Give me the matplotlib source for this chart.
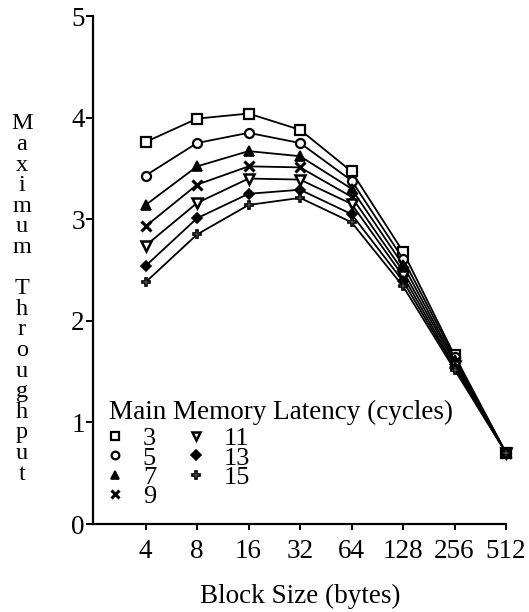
import numpy as np
import matplotlib
matplotlib.use("Agg")
import matplotlib.pyplot as plt
from matplotlib.lines import Line2D

plt.rcParams['font.family'] = ['Liberation Serif', 'DejaVu Serif']

# block sizes (bytes) and tick labels
block_size = [4, 8, 16, 32, 64, 128, 256, 512]
tick_labels = ['4', '8', '16', '32', '64', '128', '256', '512']

# main memory latency (cycles), one series each
latency = [3, 5, 7, 9, 11, 13, 15]
thr_3 = [3.76, 3.99, 4.04, 3.88, 3.47, 2.68, 1.66, 0.70]
thr_5 = [3.43, 3.75, 3.85, 3.75, 3.38, 2.61, 1.64, 0.70]
thr_7 = [3.14, 3.52, 3.67, 3.62, 3.30, 2.55, 1.61, 0.70]
thr_9 = [2.93, 3.34, 3.52, 3.51, 3.22, 2.49, 1.59, 0.70]
thr_11 = [2.74, 3.16, 3.40, 3.39, 3.15, 2.44, 1.56, 0.70]
thr_13 = [2.54, 3.01, 3.25, 3.29, 3.05, 2.39, 1.54, 0.70]
thr_15 = [2.38, 2.85, 3.14, 3.21, 2.97, 2.34, 1.52, 0.70]
series = [thr_3, thr_5, thr_7, thr_9, thr_11, thr_13, thr_15]

#marker style per latency: (marker, facecolor, size, edge width)
styles = [('s', 'white', 6.5, 1.6),
          ('o', 'white', 6.5, 1.6),
          ('^', 'black', 7, 1.2),
          ('x', 'black', 6.5, 2.2),
          ('v', 'white', 7, 1.8),
          ('D', 'black', 5.5, 1.2),
          ('P', 'white', 6, 1.2)]

fig = plt.figure(figsize=(5.29, 6.12), dpi=100)
ax = fig.add_axes([93/529, 88/612, 413/529, 508/612])

for vals, (mk, fc, ms, mew) in zip(series, styles):
    ax.plot(block_size, vals, color='black', lw=1.3, marker=mk, ms=ms,
            mfc=fc, mec='black', mew=mew, clip_on=False, zorder=3)

ax.set_xscale('log', base=2)
ax.set_xlim(1.97, 512)
ax.set_ylim(0, 5)
ax.set_xticks(block_size)
ax.set_xticklabels(tick_labels)
ax.xaxis.set_minor_locator(matplotlib.ticker.NullLocator())
ax.set_yticks([0, 1, 2, 3, 4, 5])

for s in ['top', 'right']:
    ax.spines[s].set_visible(False)
for s in ['left', 'bottom']:
    ax.spines[s].set_linewidth(1.6)
ax.tick_params(axis='both', direction='out', width=1.4, labelsize=19.5)
ax.tick_params(axis='x', length=4, pad=7)
ax.tick_params(axis='y', length=5, pad=1)

#legend (markers only), title drawn as its own text
handles = [Line2D([], [], ls='none', marker=mk, ms=ms*0.85, mfc=fc, mec='black', mew=mew)
           for (mk, fc, ms, mew) in styles]
leg = ax.legend(handles, [str(l) for l in latency],
                ncol=2, frameon=False, fontsize=19,
                loc='upper left', bbox_to_anchor=(109/529, 1 - 427/612),
                bbox_transform=fig.transFigure, borderpad=0, borderaxespad=0,
                handlelength=0.45, handletextpad=0.83, columnspacing=1.29,
                labelspacing=-0.16)
fig.text(109/529, 1 - 419/612, 'Main Memory Latency (cycles)', ha='left', va='baseline',
         fontsize=19.5)

fig.text(22/529, 1 - 299/612, "\n".join(list("Maximum")) + "\n\n" + "\n".join(list("Throughput")),
         ha='center', va='center', ma='center', fontsize=17.5, linespacing=0.975)
fig.text(300/529, 1 - 603/612, 'Block Size (bytes)', ha='center', va='baseline', fontsize=19.5)

fig.savefig('out.png', dpi=100)
